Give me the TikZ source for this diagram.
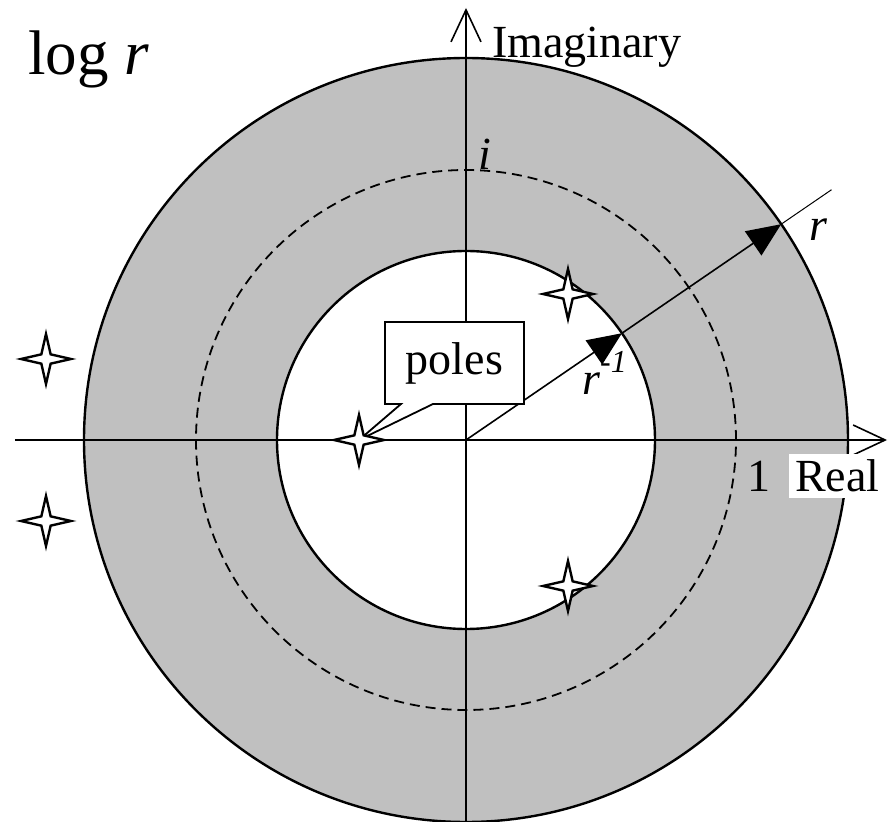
\documentclass[tikz,border=0pt]{standalone}
\usepackage{fontspec}
\setmainfont{Liberation Serif}
\usetikzlibrary{arrows.meta,shapes.geometric,shapes.callouts}
\definecolor{ringgray}{RGB}{192,192,192}
\tikzset{
  pole/.style={draw,star,star points=4,star point ratio=3.8,minimum size=50pt,inner sep=0pt,fill=white,line width=2.4pt},
  axis/.style={line width=1.6pt,-{Straight Barb[length=32pt,width=30pt,line width=1.6pt]}},
  ray/.style={line width=1.6pt,-{Triangle[length=34pt,width=29pt]}},
  lbl/.style={inner sep=0pt,anchor=base west,font=\fontsize{46}{55}\selectfont}
}
\begin{document}
\begin{tikzpicture}[x=1pt,y=1pt]
\useasboundingbox (-466,-381) rectangle (424,440);
% ring between r^-1 and r
\fill[ringgray] (0,0) circle (382);
\fill[white] (0,0) circle (189);
\draw[line width=2.4pt] (0,0) circle (382);
\draw[line width=2.4pt] (0,0) circle (189);
\draw[line width=1.8pt,dash pattern=on 10pt off 6pt] (0,0) circle (270);

% axes
\coordinate (o) at (0,0);
\coordinate (west) at (-451,0);
\coordinate (east) at (421,0);
\coordinate (south) at (0,-381);
\coordinate (north) at (0,432);
\draw[axis] (west) -- (east);
\draw[axis] (south) -- (north);

% radius
\coordinate (rin) at (34.4:189);
\coordinate (rout) at (34.4:382);
\coordinate (rend) at (34.4:443);
\path[ray] (o) edge (rin)
  (rin) edge (rout);
\draw[line width=1pt] (rout) -- (rend);

% labels
\node[lbl,font=\fontsize{63}{70}\selectfont] (title) at (-438,365) {log \textit{r}};
\node[lbl] (imag) at (26,382) {Imaginary};
\node[lbl] (unit) at (12,270) {\textit{i}};
\node[lbl] (rlbl) at (343,199) {\textit{r}};
\node[lbl] (rinv) at (116,45) {\textit{r}\raisebox{22pt}{\fontsize{32}{32}\selectfont\textit{-1}}};
\node[lbl] (one) at (281,-52) {1};
\node[lbl,fill=white,inner sep=6pt] (real) at (323,-52) {Real};

% poles
\coordinate (p1) at (-107,0);
\node[rectangle callout,draw,fill=white,line width=1.8pt,minimum width=139pt,minimum height=82pt,inner sep=0pt,
  callout absolute pointer={(p1)},callout pointer width=32pt,font=\fontsize{46}{55}\selectfont] (poles) at (-11.5,77) {poles};
\node[pole] (pole1) at (p1) {};
\node[pole] (pole2) at (102,146) {};
\node[pole] (pole3) at (102,-146) {};
\node[pole] (pole4) at (-420,81) {};
\node[pole] (pole5) at (-420,-81) {};
\end{tikzpicture}
\end{document}
